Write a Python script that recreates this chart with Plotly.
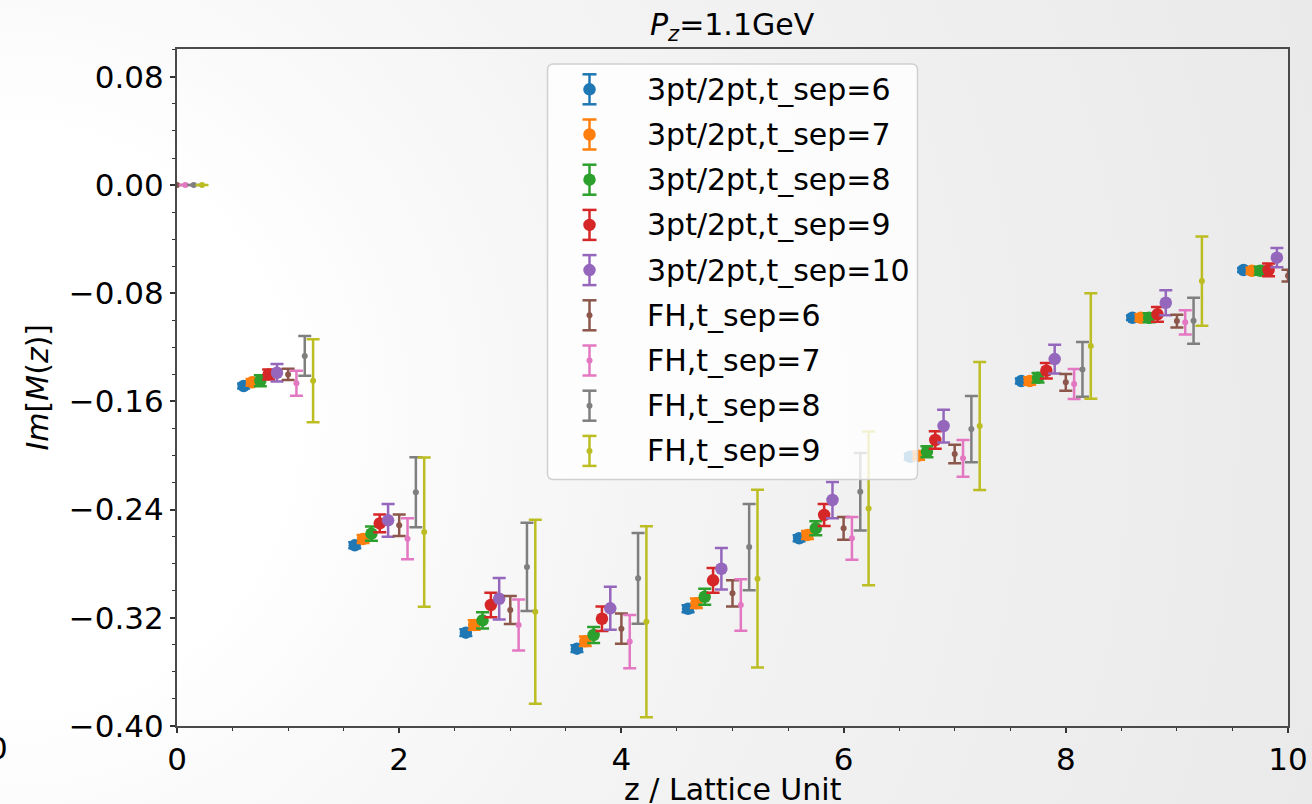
import base64
import plotly.graph_objects as go

# ---------------------------------------------------------------------------
# Im[M(z)] at P_z = 1.1 GeV, ratio method (3pt/2pt) and Feynman-Hellmann (FH)
# ---------------------------------------------------------------------------
z_ratio = [1, 2, 3, 4, 5, 6, 7, 8, 9, 10]

ratio_t6 = [-0.1486, -0.2664, -0.3310, -0.3428, -0.3133, -0.2612, -0.2009, -0.1449, -0.0981, -0.0628]
ratio_t7 = [-0.1459, -0.2617, -0.3253, -0.3374, -0.3093, -0.2588, -0.2001, -0.1449, -0.0981, -0.0634]
ratio_t8 = [-0.1447, -0.2578, -0.3219, -0.3327, -0.3044, -0.2538, -0.1972, -0.1425, -0.0981, -0.0634]
ratio_t9 = [-0.1400, -0.2502, -0.3105, -0.3207, -0.2923, -0.2440, -0.1885, -0.1373, -0.0956, -0.0628]
ratio_t10 = [-0.1388, -0.2479, -0.3059, -0.3130, -0.2837, -0.2329, -0.1782, -0.1287, -0.0870, -0.0537]

ratio_t6_err = [0.0018, 0.0022, 0.0025, 0.0025, 0.0025, 0.0022, 0.0020, 0.0018, 0.0016, 0.0015]
ratio_t7_err = [0.0025, 0.0030, 0.0035, 0.0035, 0.0035, 0.0030, 0.0030, 0.0028, 0.0025, 0.0022]
ratio_t8_err = [0.0040, 0.0053, 0.0060, 0.0059, 0.0059, 0.0052, 0.0040, 0.0035, 0.0033, 0.0030]
ratio_t9_err = [0.0037, 0.0065, 0.0090, 0.0091, 0.0091, 0.0081, 0.0064, 0.0058, 0.0055, 0.0047]
ratio_t10_err = [0.0064, 0.0121, 0.0153, 0.0159, 0.0153, 0.0134, 0.0121, 0.0107, 0.0092, 0.0071]

z_fh = [0, 1, 2, 3, 4, 5, 6, 7, 8, 9, 10]

fh_t6 = [0.0, -0.1400, -0.2516, -0.3142, -0.3280, -0.3019, -0.2538, -0.1989, -0.1459, -0.1006, -0.0670]
fh_t7 = [0.0, -0.1466, -0.2615, -0.3253, -0.3376, -0.3105, -0.2612, -0.2021, -0.1471, -0.1015]
fh_t8 = [0.0, -0.1264, -0.2272, -0.2824, -0.2908, -0.2677, -0.2268, -0.1804, -0.1363, -0.1003]
fh_t9 = [0.0, -0.1447, -0.2566, -0.3155, -0.3229, -0.2911, -0.2391, -0.1782, -0.1190, -0.0710]

fh_t6_err = [0.0, 0.0042, 0.0079, 0.0104, 0.0111, 0.0097, 0.0084, 0.0068, 0.0062, 0.0047, 0.0043]
fh_t7_err = [0.0, 0.0092, 0.0152, 0.0189, 0.0197, 0.0190, 0.0158, 0.0136, 0.0111, 0.0090]
fh_t8_err = [0.0, 0.0147, 0.0259, 0.0326, 0.0336, 0.0319, 0.0286, 0.0245, 0.0203, 0.0170]
fh_t9_err = [0.0, 0.0307, 0.0552, 0.0680, 0.0706, 0.0657, 0.0569, 0.0473, 0.0390, 0.0330]

series_labels = [
    "3pt/2pt,t_sep=6", "3pt/2pt,t_sep=7", "3pt/2pt,t_sep=8",
    "3pt/2pt,t_sep=9", "3pt/2pt,t_sep=10",
    "FH,t_sep=6", "FH,t_sep=7", "FH,t_sep=8", "FH,t_sep=9",
]

x_ticks = [0, 2, 4, 6, 8, 10]
y_ticks = [0.08, 0.00, -0.08, -0.16, -0.24, -0.32, -0.40]

# ---------------------------------------------------------------------------
# styling
# ---------------------------------------------------------------------------
COLORS = ["#1f77b4", "#ff7f0e", "#2ca02c", "#d62728", "#9467bd",
          "#8c564b", "#e377c2", "#7f7f7f", "#bcbd22"]
FONT = "DejaVu Sans"
W, H = 1312, 804
L, R, T, B = 177, 1288, 49, 726          # plot-area edges in pixels
PW, PH = R - L, B - T
BAR_W = 2.5

def px_x(px):
    return (px - L) / PW

def px_y(py):
    return (B - py) / PH

ratio_sets = [
    (ratio_t6, ratio_t6_err), (ratio_t7, ratio_t7_err), (ratio_t8, ratio_t8_err),
    (ratio_t9, ratio_t9_err), (ratio_t10, ratio_t10_err),
]
fh_sets = [
    (fh_t6, fh_t6_err), (fh_t7, fh_t7_err), (fh_t8, fh_t8_err), (fh_t9, fh_t9_err),
]
ratio_shift = [-0.4, -0.325, -0.25, -0.175, -0.1]
fh_shift = [0.0, 0.075, 0.15, 0.225]

fig = go.Figure()

for i, (vals, errs) in enumerate(ratio_sets):
    xs = [zz + ratio_shift[i] for zz in z_ratio[:len(vals)]]
    fig.add_trace(go.Scatter(
        x=xs, y=vals, mode="markers", name=series_labels[i], showlegend=False,
        marker=dict(color=COLORS[i], size=12.5, line=dict(width=0)),
        error_y=dict(type="data", array=errs, visible=True, color=COLORS[i],
                     thickness=BAR_W, width=6.5),
    ))

for j, (vals, errs) in enumerate(fh_sets):
    k = 5 + j
    xs = [zz + fh_shift[j] for zz in z_fh[:len(vals)]]
    fig.add_trace(go.Scatter(
        x=xs, y=vals, mode="markers", name=series_labels[k], showlegend=False,
        marker=dict(color=COLORS[k], size=6, line=dict(width=0)),
        error_y=dict(type="data", array=errs, visible=True, color=COLORS[k],
                     thickness=BAR_W, width=6.5),
    ))

# ---------------------------------------------------------------------------
# soft radial shading of the canvas
# ---------------------------------------------------------------------------
svg = (
    f'<svg xmlns="http://www.w3.org/2000/svg" width="{W}" height="{H}">'
    '<defs><radialGradient id="g" gradientUnits="userSpaceOnUse" cx="0" cy="420" r="1420">'
    '<stop offset="0" stop-color="#ffffff"/>'
    '<stop offset="0.2" stop-color="#ffffff"/>'
    '<stop offset="0.3" stop-color="#fafafa"/>'
    '<stop offset="0.46" stop-color="#f4f4f4"/>'
    '<stop offset="0.6" stop-color="#f1f1f1"/>'
    '<stop offset="0.95" stop-color="#eaeaea"/>'
    '<stop offset="1" stop-color="#e8e8e8"/>'
    '</radialGradient></defs>'
    f'<rect x="0" y="0" width="{W}" height="{H}" fill="url(#g)"/></svg>'
)
bg_src = "data:image/svg+xml;base64," + base64.b64encode(svg.encode()).decode()

# ---------------------------------------------------------------------------
# legend box drawn as shapes + text
# ---------------------------------------------------------------------------
shapes = []
lx0, lx1, ly0, ly1, rad = 547.5, 917.5, 64.0, 479.5, 6.0
path = (
    f"M {px_x(lx0 + rad)},{px_y(ly0)} L {px_x(lx1 - rad)},{px_y(ly0)} "
    f"Q {px_x(lx1)},{px_y(ly0)} {px_x(lx1)},{px_y(ly0 + rad)} "
    f"L {px_x(lx1)},{px_y(ly1 - rad)} Q {px_x(lx1)},{px_y(ly1)} {px_x(lx1 - rad)},{px_y(ly1)} "
    f"L {px_x(lx0 + rad)},{px_y(ly1)} Q {px_x(lx0)},{px_y(ly1)} {px_x(lx0)},{px_y(ly1 - rad)} "
    f"L {px_x(lx0)},{px_y(ly0 + rad)} Q {px_x(lx0)},{px_y(ly0)} {px_x(lx0 + rad)},{px_y(ly0)} Z"
)
shapes.append(dict(type="path", path=path, xref="paper", yref="paper", layer="above",
                   fillcolor="rgba(255,255,255,0.8)", line=dict(color="#d0d0d0", width=1.5)))

annotations = []
gx, half_len, cap_half = 589.5, 15.0, 7.0
row0, row_step = 89.3, 45.2
for k, label in enumerate(series_labels):
    cy = row0 + k * row_step
    c = COLORS[k]
    shapes.append(dict(type="line", xref="paper", yref="paper", layer="above",
                       x0=px_x(gx), x1=px_x(gx), y0=px_y(cy - half_len), y1=px_y(cy + half_len),
                       line=dict(color=c, width=BAR_W)))
    for dy in (-half_len, half_len):
        shapes.append(dict(type="line", xref="paper", yref="paper", layer="above",
                           x0=px_x(gx - cap_half), x1=px_x(gx + cap_half),
                           y0=px_y(cy + dy), y1=px_y(cy + dy),
                           line=dict(color=c, width=BAR_W)))
    rmark = 6.25 if k < 5 else 3.0
    shapes.append(dict(type="circle", xref="paper", yref="paper", layer="above",
                       x0=px_x(gx - rmark), x1=px_x(gx + rmark),
                       y0=px_y(cy - rmark), y1=px_y(cy + rmark),
                       fillcolor=c, line=dict(width=0)))
    annotations.append(dict(text=label, xref="paper", yref="paper", x=px_x(645), y=px_y(cy),
                            xanchor="left", yanchor="middle", showarrow=False,
                            font=dict(family=FONT, size=30, color="#000000")))

# title and axis titles
annotations.append(dict(text="<i>P</i><sub><i>z</i></sub>=1.1GeV", xref="paper", yref="paper",
                        x=0.5, y=px_y(27), xanchor="center", yanchor="middle", showarrow=False,
                        font=dict(family=FONT, size=30, color="#000000")))
annotations.append(dict(text="z / Lattice Unit", xref="paper", yref="paper",
                        x=0.5, y=px_y(789), xanchor="center", yanchor="middle", showarrow=False,
                        font=dict(family=FONT, size=30, color="#000000")))
annotations.append(dict(text="<i>Im</i>[<i>M</i>(<i>z</i>)]", xref="paper", yref="paper",
                        x=px_x(37), y=0.5, xanchor="center", yanchor="middle", showarrow=False,
                        textangle=-90, font=dict(family=FONT, size=30, color="#000000")))
# stray tick label at the left border
annotations.append(dict(text="0", xref="paper", yref="paper",
                        x=px_x(-2), y=px_y(748), xanchor="center", yanchor="middle", showarrow=False,
                        font=dict(family=FONT, size=31, color="#000000")))

axis_common = dict(
    showline=True, linecolor="#4a4a4a", linewidth=2, mirror=True, automargin=False,
    showgrid=False, zeroline=False, ticks="outside", ticklen=5, tickwidth=1.5,
    tickcolor="#333333", tickfont=dict(family=FONT, size=31, color="#000000"),
)

fig.update_layout(
    width=W, height=H, autosize=False,
    margin=dict(l=L, r=W - R, t=T, b=H - B, pad=0),
    paper_bgcolor="#ffffff", plot_bgcolor="rgba(0,0,0,0)",
    showlegend=False,
    xaxis=dict(range=[0, 10], tickmode="array", tickvals=x_ticks,
               ticktext=[str(v) for v in x_ticks],
               minor=dict(ticks="outside", ticklen=3, tickwidth=1.2, tickcolor="#333333",
                          dtick=0.5, tick0=0),
               **axis_common),
    yaxis=dict(range=[-0.40, 0.1006], tickmode="array", tickvals=y_ticks,
               ticktext=[f"{v:.2f}".replace("-", "\u2212") for v in y_ticks],
               minor=dict(ticks="outside", ticklen=3, tickwidth=1.2, tickcolor="#333333",
                          dtick=0.02, tick0=0),
               **axis_common),
    images=[dict(source=bg_src, xref="paper", yref="paper", x=px_x(0), y=px_y(0),
                 sizex=W / PW, sizey=H / PH, xanchor="left", yanchor="top",
                 sizing="stretch", layer="below")],
    shapes=shapes,
    annotations=annotations,
)

fig.write_html("out.html")
